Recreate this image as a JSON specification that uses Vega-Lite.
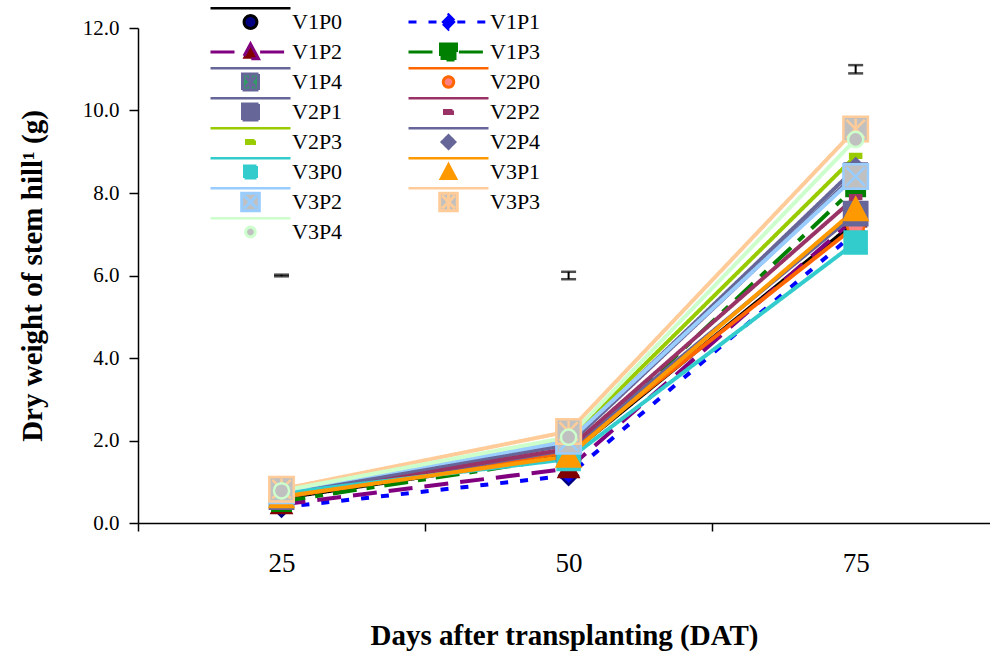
{
  "$schema": "https://vega.github.io/schema/vega-lite/v6.json",
  "width": 852,
  "height": 495,
  "autosize": {"type": "none"},
  "padding": {"left": 138, "top": 28, "right": 0, "bottom": 130},
  "background": "white",
  "config": {
    "font": "Liberation Serif",
    "view": {"stroke": null},
    "legend": {"labelFont": "Liberation Serif"},
    "axis": {
      "grid": false,
      "domainColor": "black",
      "domainWidth": 1.5,
      "tickColor": "black",
      "tickWidth": 1.5,
      "labelColor": "black",
      "titleColor": "black",
      "labelFont": "Liberation Serif",
      "titleFont": "Liberation Serif",
      "titleFontWeight": "bold",
      "titleFontSize": 29
    }
  },
  "datasets": {
    "main": [
      {"series": "V1P0", "day": 25, "value": 0.60}, {"series": "V1P0", "day": 50, "value": 1.65}, {"series": "V1P0", "day": 75, "value": 7.30},
      {"series": "V1P1", "day": 25, "value": 0.38}, {"series": "V1P1", "day": 50, "value": 1.15}, {"series": "V1P1", "day": 75, "value": 7.05},
      {"series": "V1P2", "day": 25, "value": 0.45}, {"series": "V1P2", "day": 50, "value": 1.32}, {"series": "V1P2", "day": 75, "value": 7.40},
      {"series": "V1P3", "day": 25, "value": 0.52}, {"series": "V1P3", "day": 50, "value": 1.60}, {"series": "V1P3", "day": 75, "value": 8.15},
      {"series": "V1P4", "day": 25, "value": 0.68}, {"series": "V1P4", "day": 50, "value": 1.90}, {"series": "V1P4", "day": 75, "value": 8.45},
      {"series": "V2P0", "day": 25, "value": 0.62}, {"series": "V2P0", "day": 50, "value": 1.72}, {"series": "V2P0", "day": 75, "value": 7.20},
      {"series": "V2P1", "day": 25, "value": 0.63}, {"series": "V2P1", "day": 50, "value": 1.78}, {"series": "V2P1", "day": 75, "value": 7.50},
      {"series": "V2P2", "day": 25, "value": 0.66}, {"series": "V2P2", "day": 50, "value": 1.80}, {"series": "V2P2", "day": 75, "value": 7.90},
      {"series": "V2P3", "day": 25, "value": 0.74}, {"series": "V2P3", "day": 50, "value": 2.02}, {"series": "V2P3", "day": 75, "value": 8.90},
      {"series": "V2P4", "day": 25, "value": 0.70}, {"series": "V2P4", "day": 50, "value": 1.92}, {"series": "V2P4", "day": 75, "value": 8.60},
      {"series": "V3P0", "day": 25, "value": 0.72}, {"series": "V3P0", "day": 50, "value": 1.55}, {"series": "V3P0", "day": 75, "value": 6.80},
      {"series": "V3P1", "day": 25, "value": 0.64}, {"series": "V3P1", "day": 50, "value": 1.62}, {"series": "V3P1", "day": 75, "value": 7.60},
      {"series": "V3P2", "day": 25, "value": 0.78}, {"series": "V3P2", "day": 50, "value": 1.98}, {"series": "V3P2", "day": 75, "value": 8.40},
      {"series": "V3P3", "day": 25, "value": 0.82}, {"series": "V3P3", "day": 50, "value": 2.22}, {"series": "V3P3", "day": 75, "value": 9.55},
      {"series": "V3P4", "day": 25, "value": 0.78}, {"series": "V3P4", "day": 50, "value": 2.08}, {"series": "V3P4", "day": 75, "value": 9.30}
    ],
    "err": [
      {"day": 25, "lo": 5.98, "hi": 6.02},
      {"day": 50, "lo": 5.91, "hi": 6.09},
      {"day": 75, "lo": 10.9, "hi": 11.1}
    ]
  },
  "layer": [
    {
      "data": {"name": "main"},
      "mark": {"type": "line", "strokeWidth": 4, "strokeCap": "butt"},
      "encoding": {
        "x": {
          "field": "day", "type": "quantitative",
          "scale": {"domain": [12.5, 86.7], "nice": false, "zero": false},
          "axis": {
            "title": "Days after transplanting (DAT)",
            "values": [12.5, 25, 37.5, 50, 62.5, 75],
            "labelExpr": "datum.value % 25 == 0 ? datum.label : ''",
            "format": "d",
            "tickOpacity": {"condition": {"test": "datum.value % 25 == 0", "value": 0}, "value": 1},
            "tickSize": 8,
            "labelFontSize": 27,
            "labelPadding": 19,
            "titlePadding": 45,
            "labelOverlap": false,
            "labelFlush": false,
            "labelBound": false
          }
        },
        "y": {
          "field": "value", "type": "quantitative",
          "scale": {"domain": [0, 12], "nice": false},
          "axis": {
            "title": "Dry weight of stem hill¹ (g)",
            "values": [0, 2, 4, 6, 8, 10, 12],
            "format": ".1f",
            "tickSize": 9,
            "labelFontSize": 21,
            "labelPadding": 10,
            "titlePadding": 35
          }
        },
        "color": {
          "field": "series", "type": "nominal",
          "scale": {
            "domain": ["V1P0","V1P2","V1P4","V2P1","V2P3","V3P0","V3P2","V3P4","V1P1","V1P3","V2P0","V2P2","V2P4","V3P1","V3P3"],
            "range": ["#000000","#800080","#666699","#666699","#99CC00","#33CCCC","#99CCFF","#CCFFCC","#0000FF","#008000","#FF6600","#993366","#666699","#FF9900","#FFCC99"]
          },
          "legend": {
            "orient": "none",
            "legendX": 71,
            "legendY": -21,
            "columns": 2,
            "title": null,
            "symbolSize": 6400,
            "clipHeight": 30,
            "rowPadding": 0,
            "columnPadding": 64,
            "labelFontSize": 22,
            "labelOffset": 0,
            "labelFont": "Liberation Serif",
            "labelColor": "black",
            "padding": 0,
            "symbolStrokeWidth": 3,
            "encode": {
              "labels": {
                "update": {
                  "font": {"value": "Liberation Serif"},
                  "fontSize": {"value": 22},
                  "fill": {"value": "black"}
                }
              },
              "symbols": {
                "update": {
                  "shape": {"signal": "{'V1P0':'M-1,-0.35H1M-0.16,0A0.16,0.16 0 1,0 0.16,0A0.16,0.16 0 1,0 -0.16,0Z','V1P1':'M-1,0H-0.22M0.22,0H1M0,-0.18L0.18,0L0,0.18L-0.18,0Z','V1P2':'M-1,0H-0.24M0.24,0H1M0,-0.2L0.2,0.17H-0.2Z','V1P3':'M-1,0H-0.26M0.26,0H1M-0.2,-0.2H0.2V0.2H-0.2Z','V1P4':'M-1,-0.35H1M-0.2,-0.2H0.2V0.2H-0.2ZM-0.13,-0.13L0.13,0.13M0.13,-0.13L-0.13,0.13M0,-0.16V0.16','V2P0':'M-1,-0.35H1M-0.13,0A0.13,0.13 0 1,0 0.13,0A0.13,0.13 0 1,0 -0.13,0Z','V2P1':'M-1,-0.35H1M-0.2,-0.2H0.2V0.2H-0.2Z','V2P2':'M-1,-0.35H1M-0.1,-0.04H0.1V0.04H-0.1Z','V2P3':'M-1,-0.35H1M-0.1,-0.04H0.1V0.04H-0.1Z','V2P4':'M-1,-0.35H1M0,-0.16L0.16,0L0,0.16L-0.16,0Z','V3P0':'M-1,-0.35H1M-0.15,-0.15H0.15V0.15H-0.15Z','V3P1':'M-1,-0.35H1M0,-0.18L0.18,0.16H-0.18Z','V3P2':'M-1,-0.35H1M-0.22,-0.22H0.22V0.22H-0.22ZM-0.16,-0.16L0.16,0.16M0.16,-0.16L-0.16,0.16','V3P3':'M-1,-0.35H1M-0.22,-0.22H0.22V0.22H-0.22ZM-0.16,-0.16L0.16,0.16M0.16,-0.16L-0.16,0.16M0,-0.18V0.18','V3P4':'M-1,-0.35H1M-0.12,0A0.12,0.12 0 1,0 0.12,0A0.12,0.12 0 1,0 -0.12,0Z'}[datum.value]"},
                  "fill": {"scale": "fill", "field": "value"},
                  "stroke": {"scale": "color", "field": "value"},
                  "strokeDash": {"scale": "strokeDash", "field": "value"},
                  "strokeWidth": {"value": 3},
                  "size": {"value": 6400},
                  "opacity": {"value": 1}
                }
              }
            }
          }
        },
        "strokeDash": {
          "field": "series", "type": "nominal",
          "scale": {
            "domain": ["V1P0","V1P1","V1P2","V1P3","V1P4","V2P0","V2P1","V2P2","V2P3","V2P4","V3P0","V3P1","V3P2","V3P3","V3P4"],
            "range": [[1,0],[8,12],[24,12],[24,10,8,10],[1,0],[1,0],[1,0],[1,0],[1,0],[1,0],[1,0],[1,0],[1,0],[1,0],[1,0]]
          },
          "legend": null
        }
      }
    },
    {
      "data": {"name": "main"},
      "mark": {"type": "point", "size": 600, "strokeWidth": 2.5, "opacity": 1},
      "encoding": {
        "x": {"field": "day", "type": "quantitative", "title": "Days after transplanting (DAT)"},
        "y": {"field": "value", "type": "quantitative", "title": "Dry weight of stem hill¹ (g)"},
        "shape": {
          "field": "series", "type": "nominal",
          "scale": {
            "domain": ["V1P0","V1P1","V1P2","V1P3","V1P4","V2P0","V2P1","V2P2","V2P3","V2P4","V3P0","V3P1","V3P2","V3P3","V3P4"],
            "range": [
              "M-0.6,0A0.6,0.6 0 1,0 0.6,0A0.6,0.6 0 1,0 -0.6,0Z",
              "M0,-0.75L0.75,0L0,0.75L-0.75,0Z",
              "M0,-0.8L0.8,0.7H-0.8Z",
              "M-0.75,-0.75H0.75V0.75H-0.75Z",
              "M-0.9,-0.9H0.9V0.9H-0.9ZM-0.6,-0.6L0.6,0.6M0.6,-0.6L-0.6,0.6M0,-0.75V0.75",
              "M-0.7,0A0.7,0.7 0 1,0 0.7,0A0.7,0.7 0 1,0 -0.7,0Z",
              "M-0.95,-0.95H0.95V0.95H-0.95Z",
              "M-0.45,-0.15H0.45V0.15H-0.45Z",
              "M-0.45,-0.15H0.45V0.15H-0.45Z",
              "M0,-0.8L0.8,0L0,0.8L-0.8,0Z",
              "M-0.9,-0.9H0.9V0.9H-0.9Z",
              "M0,-0.95L0.95,0.85H-0.95Z",
              "M-1,-1H1V1H-1ZM-0.75,-0.75L0.75,0.75M0.75,-0.75L-0.75,0.75",
              "M-1,-1H1V1H-1ZM-0.75,-0.75L0.75,0.75M0.75,-0.75L-0.75,0.75M0,-0.85V0.85",
              "M-0.62,0A0.62,0.62 0 1,0 0.62,0A0.62,0.62 0 1,0 -0.62,0Z"
            ]
          },
          "legend": null
        },
        "fill": {
          "field": "series", "type": "nominal",
          "scale": {
            "domain": ["V1P0","V1P1","V1P2","V1P3","V1P4","V2P0","V2P1","V2P2","V2P3","V2P4","V3P0","V3P1","V3P2","V3P3","V3P4"],
            "range": ["#000080","#0000FF","#800000","#008000","#339966","#FF8080","#666699","#993366","#99CC00","#666699","#33CCCC","#FF9900","#C0C0C0","#C0C0C0","#C0C0C0"]
          },
          "legend": null
        },
        "stroke": {
          "field": "series", "type": "nominal",
          "scale": {
            "domain": ["V1P0","V1P1","V1P2","V1P3","V1P4","V2P0","V2P1","V2P2","V2P3","V2P4","V3P0","V3P1","V3P2","V3P3","V3P4"],
            "range": ["#000080","#000080","#800000","#008000","#666699","#FF6600","#666699","#993366","#99CC00","#666699","#33CCCC","#FF9900","#99CCFF","#FFCC99","#CCFFCC"]
          },
          "legend": null
        }
      }
    },
    {
      "data": {"name": "err"},
      "mark": {"type": "rule", "color": "black", "strokeWidth": 2},
      "encoding": {
        "x": {"field": "day", "type": "quantitative", "title": "Days after transplanting (DAT)"},
        "y": {"field": "lo", "type": "quantitative", "title": "Dry weight of stem hill¹ (g)"},
        "y2": {"field": "hi"}
      }
    },
    {
      "data": {"name": "err"},
      "mark": {"type": "tick", "orient": "horizontal", "size": 15, "thickness": 2.5, "color": "black"},
      "encoding": {
        "x": {"field": "day", "type": "quantitative", "title": "Days after transplanting (DAT)"},
        "y": {"field": "lo", "type": "quantitative", "title": "Dry weight of stem hill¹ (g)"}
      }
    },
    {
      "data": {"name": "err"},
      "mark": {"type": "tick", "orient": "horizontal", "size": 15, "thickness": 2.5, "color": "black"},
      "encoding": {
        "x": {"field": "day", "type": "quantitative", "title": "Days after transplanting (DAT)"},
        "y": {"field": "hi", "type": "quantitative", "title": "Dry weight of stem hill¹ (g)"}
      }
    }
  ]
}
